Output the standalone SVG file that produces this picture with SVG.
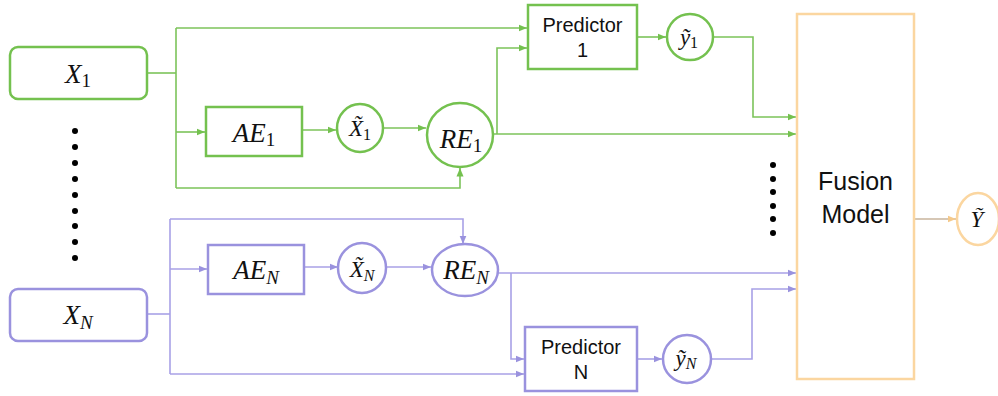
<svg xmlns="http://www.w3.org/2000/svg" width="998" height="396" viewBox="0 0 998 396">
<style>
.g{fill:#fff;stroke:#74c14f;stroke-width:2.5}
.p{fill:#fff;stroke:#9a92de;stroke-width:2.5}
.gl{fill:none;stroke:#7cc35a;stroke-width:1.6}
.pl{fill:none;stroke:#a8a1e6;stroke-width:1.6}
.m{font-family:"Liberation Serif","DejaVu Serif",serif;font-style:italic;fill:#111;text-anchor:middle}
.s{font-family:"Liberation Sans",Arial,sans-serif;fill:#111;text-anchor:middle}
.up{font-style:normal}
</style>
<defs>
<marker id="ag" markerUnits="userSpaceOnUse" markerWidth="9" markerHeight="8" refX="8.5" refY="4" orient="auto"><path d="M0,0.5 L8.5,4 L0,7.5z" fill="#74c14f"/></marker>
<marker id="ap" markerUnits="userSpaceOnUse" markerWidth="9" markerHeight="8" refX="8.5" refY="4" orient="auto"><path d="M0,0.5 L8.5,4 L0,7.5z" fill="#9a92de"/></marker>
<marker id="ao" markerUnits="userSpaceOnUse" markerWidth="9" markerHeight="8" refX="8.5" refY="4" orient="auto"><path d="M0,0.5 L8.5,4 L0,7.5z" fill="#f5c98a"/></marker>
</defs>

<g id="connectors">
<path class="gl" d="M147,73 H176" stroke-width="2.4"/>
<path class="gl" d="M176,28 V188"/>
<path class="gl" d="M176,28 H527" marker-end="url(#ag)"/>
<path class="gl" d="M176,132 H205" marker-end="url(#ag)"/>
<path class="gl" d="M176,188 H460 V168" marker-end="url(#ag)"/>
<path class="gl" d="M302,130 H336" marker-end="url(#ag)"/>
<path class="gl" d="M383,128 H426" marker-end="url(#ag)"/>
<path class="gl" d="M497,134 V48 H527" marker-end="url(#ag)"/>
<path class="gl" d="M493,134 H796" marker-end="url(#ag)"/>
<path class="gl" d="M637,37 H666" marker-end="url(#ag)"/>
<path class="gl" d="M713,37 H753 V117 H796" marker-end="url(#ag)"/>

<path class="pl" d="M147,314 H170"/>
<path class="pl" d="M170,219 V374"/>
<path class="pl" d="M170,219 H463 V244" marker-end="url(#ap)"/>
<path class="pl" d="M170,269 H207" marker-end="url(#ap)"/>
<path class="pl" d="M304,267 H338" marker-end="url(#ap)"/>
<path class="pl" d="M386,267 H431" marker-end="url(#ap)"/>
<path class="pl" d="M498,273 H796" marker-end="url(#ap)"/>
<path class="pl" d="M511,273 V359 H524" marker-end="url(#ap)"/>
<path class="pl" d="M170,374 H524" marker-end="url(#ap)"/>
<path class="pl" d="M637,359 H662" marker-end="url(#ap)"/>
<path class="pl" d="M711,359 H752 V289 H796" marker-end="url(#ap)"/>

<path d="M914,219 H956" fill="none" stroke="#c9b49c" stroke-width="1.6" marker-end="url(#ao)"/>
</g>

<g id="X1"><rect class="g" x="10" y="47" width="137" height="52" rx="8"/><text class="m" x="78" y="83" font-size="27">X<tspan class="up" font-size="19" dy="4">1</tspan></text></g>
<g id="AE1"><rect class="g" x="206" y="107" width="96" height="49"/><text class="m" x="254" y="142" font-size="27">AE<tspan class="up" font-size="19" dy="4">1</tspan></text></g>
<g id="Xt1"><ellipse class="g" cx="360" cy="128" rx="23" ry="24"/><text class="m" x="360" y="136" font-size="23">X̃<tspan class="up" font-size="16" dy="4">1</tspan></text></g>
<g id="RE1"><ellipse class="g" cx="460" cy="135" rx="33" ry="32"/><text class="m" x="461" y="148" font-size="27">RE<tspan class="up" font-size="19" dy="4">1</tspan></text></g>
<g id="P1"><rect class="g" x="528" y="5" width="109" height="64"/><text class="s" x="582.5" y="32" font-size="20">Predictor</text><text class="s" x="582.5" y="57" font-size="20">1</text></g>
<g id="yt1"><circle class="g" cx="690" cy="37" r="23"/><text class="m" x="689" y="45" font-size="23">ỹ<tspan class="up" font-size="16" dy="3">1</tspan></text></g>

<g id="dotsL" fill="#000">
<circle cx="75" cy="131" r="3"/><circle cx="75" cy="147" r="3"/><circle cx="75" cy="163" r="3"/><circle cx="75" cy="179" r="3"/><circle cx="75" cy="195" r="3"/><circle cx="75" cy="211" r="3"/><circle cx="75" cy="226" r="3"/><circle cx="75" cy="242" r="3"/><circle cx="75" cy="258" r="3"/>
</g>
<g id="dotsR" fill="#000">
<circle cx="773" cy="165" r="3"/><circle cx="773" cy="179" r="3"/><circle cx="773" cy="192" r="3"/><circle cx="773" cy="206" r="3"/><circle cx="773" cy="219" r="3"/><circle cx="773" cy="233" r="3"/>
</g>

<g id="XN"><rect class="p" x="10" y="289" width="137" height="52" rx="8"/><text class="m" x="78" y="324" font-size="27">X<tspan font-size="19" dy="5">N</tspan></text></g>
<g id="AEN"><rect class="p" x="208" y="245" width="96" height="49"/><text class="m" x="256" y="279" font-size="27">AE<tspan font-size="19" dy="5">N</tspan></text></g>
<g id="XtN"><ellipse class="p" cx="362" cy="268" rx="24" ry="25"/><text class="m" x="362" y="277" font-size="23">X̃<tspan font-size="16" dy="4">N</tspan></text></g>
<g id="REN"><ellipse class="p" cx="465" cy="270" rx="33" ry="26"/><text class="m" x="466" y="279" font-size="27">RE<tspan font-size="19" dy="5">N</tspan></text></g>
<g id="PN"><rect class="p" x="525" y="327" width="112" height="64"/><text class="s" x="581" y="354" font-size="20">Predictor</text><text class="s" x="581" y="379" font-size="20">N</text></g>
<g id="ytN"><circle class="p" cx="687" cy="359" r="24"/><text class="m" x="686" y="366" font-size="23">ỹ<tspan font-size="16" dy="3">N</tspan></text></g>

<g id="Fusion"><rect x="797" y="14" width="117" height="365" fill="#fff" stroke="#fbd6a0" stroke-width="2.5"/><text class="s" x="855.5" y="190" font-size="25">Fusion</text><text class="s" x="855.5" y="223" font-size="25">Model</text></g>
<g id="Yt"><ellipse cx="978" cy="219" rx="21" ry="26" fill="#fff" stroke="#fbd6a0" stroke-width="2.5"/><text class="m" x="977" y="227" font-size="23">Ỹ</text></g>
</svg>
